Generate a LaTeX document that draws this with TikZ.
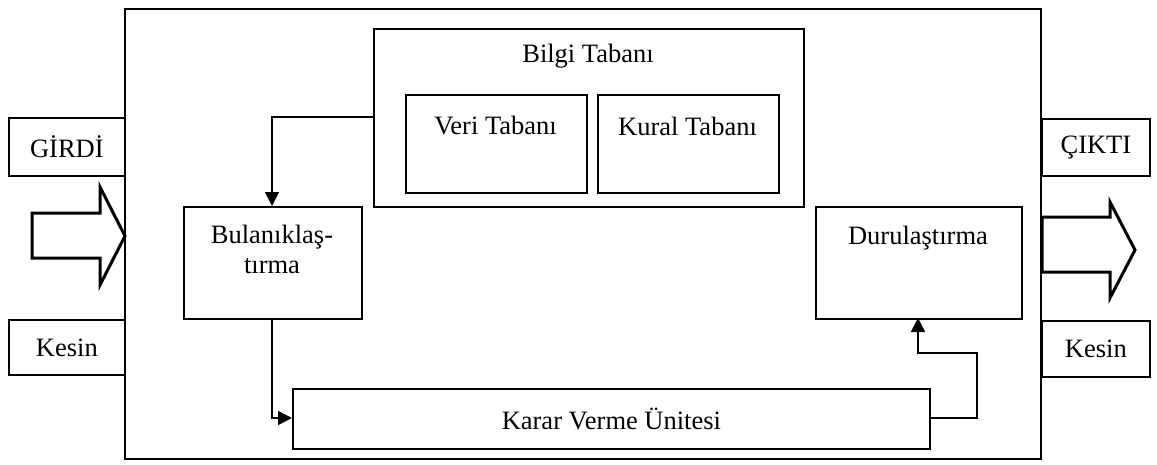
\documentclass[tikz,border=0pt]{standalone}
\usepackage{fontspec}
\setmainfont{Liberation Serif}
\usetikzlibrary{arrows.meta}
\begin{document}
\begin{tikzpicture}[x=1pt,y=-1pt,
  box/.style={draw,line width=1.8pt,inner sep=0pt,anchor=north west},
  txt/.style={inner sep=0pt,font=\fontsize{26.5}{30}\selectfont,align=center},
  conn/.style={line width=1.8pt,-{Triangle[length=14pt,width=14pt]}},
  blockarrow/.style={draw,line width=3pt,line join=miter}]
\useasboundingbox (0,0) rectangle (1157,464);
% outer box
\node[box,minimum width=916pt,minimum height=450pt] (outer) at (124,8) {};
% side boxes
\node[box,minimum width=116pt,minimum height=58pt] (girdi) at (8,117) {};
\node[txt] at (girdi.center) {GİRDİ};
\node[box,minimum width=116pt,minimum height=55pt] (kesinL) at (8,319) {};
\node[txt] at (kesinL.center) {Kesin};
\node[box,minimum width=108pt,minimum height=57pt] (cikti) at (1041,118) {};
\node[txt] at (cikti.center) {ÇIKTI};
\node[box,minimum width=108pt,minimum height=56pt] (kesinR) at (1041,320) {};
\node[txt] at (kesinR.center) {Kesin};
% block arrows
\draw[blockarrow] (32,213) -- (100,213) -- (100,187) -- (125,236) -- (100,285) -- (100,258) -- (32,258) -- cycle;
\draw[blockarrow] (1042,217) -- (1110,217) -- (1110,202) -- (1135,250) -- (1110,298) -- (1110,272) -- (1042,272) -- cycle;
% knowledge base
\node[box,minimum width=430pt,minimum height=178pt] (bilgi) at (373,28) {};
\node[txt] at (588,56) {Bilgi Tabanı};
\node[box,minimum width=181pt,minimum height=98pt] (veri) at (405,94) {};
\node[txt] at (495.5,126) {Veri Tabanı};
\node[box,minimum width=181pt,minimum height=98pt] (kural) at (597,94) {};
\node[txt] at (687.5,126) {Kural Tabanı};
% fuzzification
\node[box,minimum width=178pt,minimum height=112pt] (bulanik) at (183,206) {};
\node[txt] at (272,249) {Bulanıklaş-\\tırma};
% defuzzification
\node[box,minimum width=206pt,minimum height=112pt] (durul) at (815,206) {};
\node[txt] at (918,238) {Durulaştırma};
% decision unit
\node[box,minimum width=637pt,minimum height=60pt] (karar) at (292,388) {};
\node[txt] at (karar.center) {Karar Verme Ünitesi};
% connectors
\draw[conn] (bilgi.west |- 0,117) -- (272,117) -- (272,206 |- bulanik.north);
\draw[conn] (272,318) -- (272,418) -- (karar.west |- 0,418);
\draw[conn] (karar.east |- 0,418) -- (977,418) -- (977,353) -- (918,353) -- (918,318);
\end{tikzpicture}
\end{document}
